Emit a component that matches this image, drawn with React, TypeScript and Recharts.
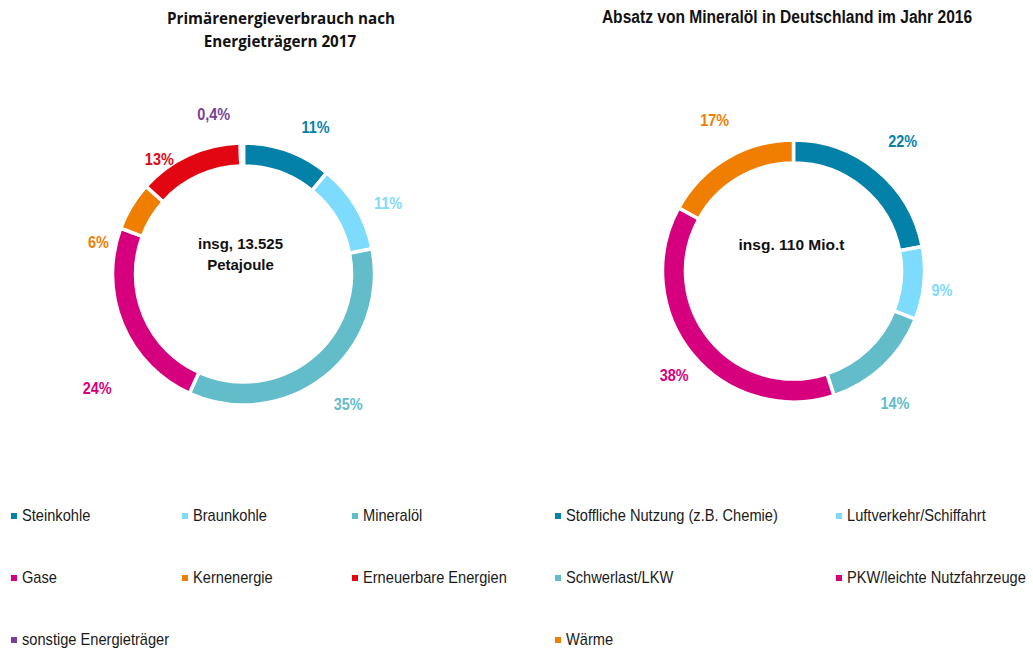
import { PieChart, Pie, Cell } from 'recharts';

const energyNames = [
  'Steinkohle',
  'Braunkohle',
  'Mineralöl',
  'Gase',
  'Kernenergie',
  'Erneuerbare Energien',
  'sonstige Energieträger',
];
const energyShares = [11, 11, 35, 24, 6, 13, 0.4];
const energyColors = ['#0481a9', '#7ddcfd', '#62bcca', '#d6007e', '#f07e00', '#e20613', '#7a3e98'];

const oilNames = [
  'Stoffliche Nutzung (z.B. Chemie)',
  'Luftverkehr/Schiffahrt',
  'Schwerlast/LKW',
  'PKW/leichte Nutzfahrzeuge',
  'Wärme',
];
const oilShares = [22, 9, 14, 38, 17];
const oilColors = ['#0481a9', '#7ddcfd', '#62bcca', '#d6007e', '#f07e00'];

// label nudges (px) to mimic the original "best fit" placement
const energyLabelShift = [[21, -5], [15, 6], [11, 12], [-7, 56], [-16, 46], [-21, 22], [-28, -9]];
const oilLabelShift = [[13, -14], [-2, 5], [-2, 22], [-3, 8], [-2, -21]];

const SANS = '"Liberation Sans", Arial, sans-serif';
const NARROW_X = 0.85; // no Arial Narrow installed: squeeze Liberation Sans instead
const RAD = Math.PI / 180;

const fmtPct = (v: number) => `${String(v).replace('.', ',')}%`;

const energyData = energyNames.map((name, i) => ({ name, value: energyShares[i] }));
const oilData = oilNames.map((name, i) => ({ name, value: oilShares[i] }));

function makeLabel(colors: string[], shifts: number[][]) {
  return (props: any) => {
    const { cx, cy, midAngle, outerRadius, index, value } = props;
    const r = outerRadius + 20;
    const x = cx + r * Math.cos(-midAngle * RAD) + shifts[index][0];
    const y = cy + r * Math.sin(-midAngle * RAD) + shifts[index][1];
    return (
      <text
        transform={`translate(${x},${y}) scale(${NARROW_X},1)`}
        x={0}
        y={0}
        fill={colors[index]}
        textAnchor="middle"
        dominantBaseline="central"
        fontFamily={SANS}
        fontWeight="bold"
        fontSize={17}
      >
        {fmtPct(value)}
      </text>
    );
  };
}

function LegendBlock({ names, colors, left, colWidth, cols }: {
  names: string[]; colors: string[]; left: number; colWidth: number; cols: number;
}) {
  return (
    <>
      {names.map((n, i) => {
        const row = Math.floor(i / cols);
        const col = i % cols;
        return (
          <div
            key={n}
            style={{
              position: 'absolute',
              left: left + col * colWidth,
              top: 516 + row * 62 - 10,
              height: 20,
              display: 'flex',
              alignItems: 'center',
              whiteSpace: 'nowrap',
              fontFamily: SANS,
              fontSize: 17,
              color: '#1a1a1a',
            }}
          >
            <span style={{ width: 6, height: 6, background: colors[i], marginRight: 5, display: 'inline-block' }} />
            <span style={{ display: 'inline-block', transform: 'scaleX(0.86)', transformOrigin: 'left center' }}>{n}</span>
          </div>
        );
      })}
    </>
  );
}

export default function App() {
  return (
    <div style={{ position: 'absolute', left: 0, top: 0, width: 1033, height: 652, background: '#fff' }}>
      <PieChart width={1033} height={652} margin={{ top: 0, right: 0, bottom: 0, left: 0 }}>
        <text x={281} y={24} textAnchor="middle" fontFamily='"Open Sans", sans-serif' fontWeight="bold" fontSize={15.2} fill="#111">
          Primärenergieverbrauch nach
        </text>
        <text x={280} y={47} textAnchor="middle" fontFamily='"Open Sans", sans-serif' fontWeight="bold" fontSize={15.2} fill="#111">
          Energieträgern 2017
        </text>
        <text
          transform={`translate(787,22.5) scale(0.82,1)`}
          x={0}
          y={0}
          textAnchor="middle"
          fontFamily={SANS}
          fontWeight="bold"
          fontSize={19}
          fill="#111"
        >
          Absatz von Mineralöl in Deutschland im Jahr 2016
        </text>
        <text x={240.5} y={248.5} textAnchor="middle" fontFamily={SANS} fontWeight="bold" fontSize={15} fill="#111">
          insg, 13.525
        </text>
        <text x={240.5} y={270} textAnchor="middle" fontFamily={SANS} fontWeight="bold" fontSize={15} fill="#111">
          Petajoule
        </text>
        <text x={791.5} y={250} textAnchor="middle" fontFamily={SANS} fontWeight="bold" fontSize={15.5} fill="#111">
          insg. 110 Mio.t
        </text>
        <Pie
          data={energyData}
          dataKey="value"
          nameKey="name"
          cx={243.5}
          cy={274}
          innerRadius={108}
          outerRadius={131}
          startAngle={90}
          endAngle={-270}
          stroke="#fff"
          strokeWidth={3.5}
          labelLine={false}
          label={makeLabel(energyColors, energyLabelShift)}
          isAnimationActive={false}
        >
          {energyData.map((d, i) => (
            <Cell key={d.name} fill={energyColors[i]} />
          ))}
        </Pie>
        <Pie
          data={oilData}
          dataKey="value"
          nameKey="name"
          cx={793.5}
          cy={271}
          innerRadius={108}
          outerRadius={131}
          startAngle={90}
          endAngle={-270}
          stroke="#fff"
          strokeWidth={3.5}
          labelLine={false}
          label={makeLabel(oilColors, oilLabelShift)}
          isAnimationActive={false}
        >
          {oilData.map((d, i) => (
            <Cell key={d.name} fill={oilColors[i]} />
          ))}
        </Pie>
      </PieChart>
      <LegendBlock names={energyNames} colors={energyColors} left={11} colWidth={170.5} cols={3} />
      <LegendBlock names={oilNames} colors={oilColors} left={555} colWidth={281} cols={2} />
    </div>
  );
}
